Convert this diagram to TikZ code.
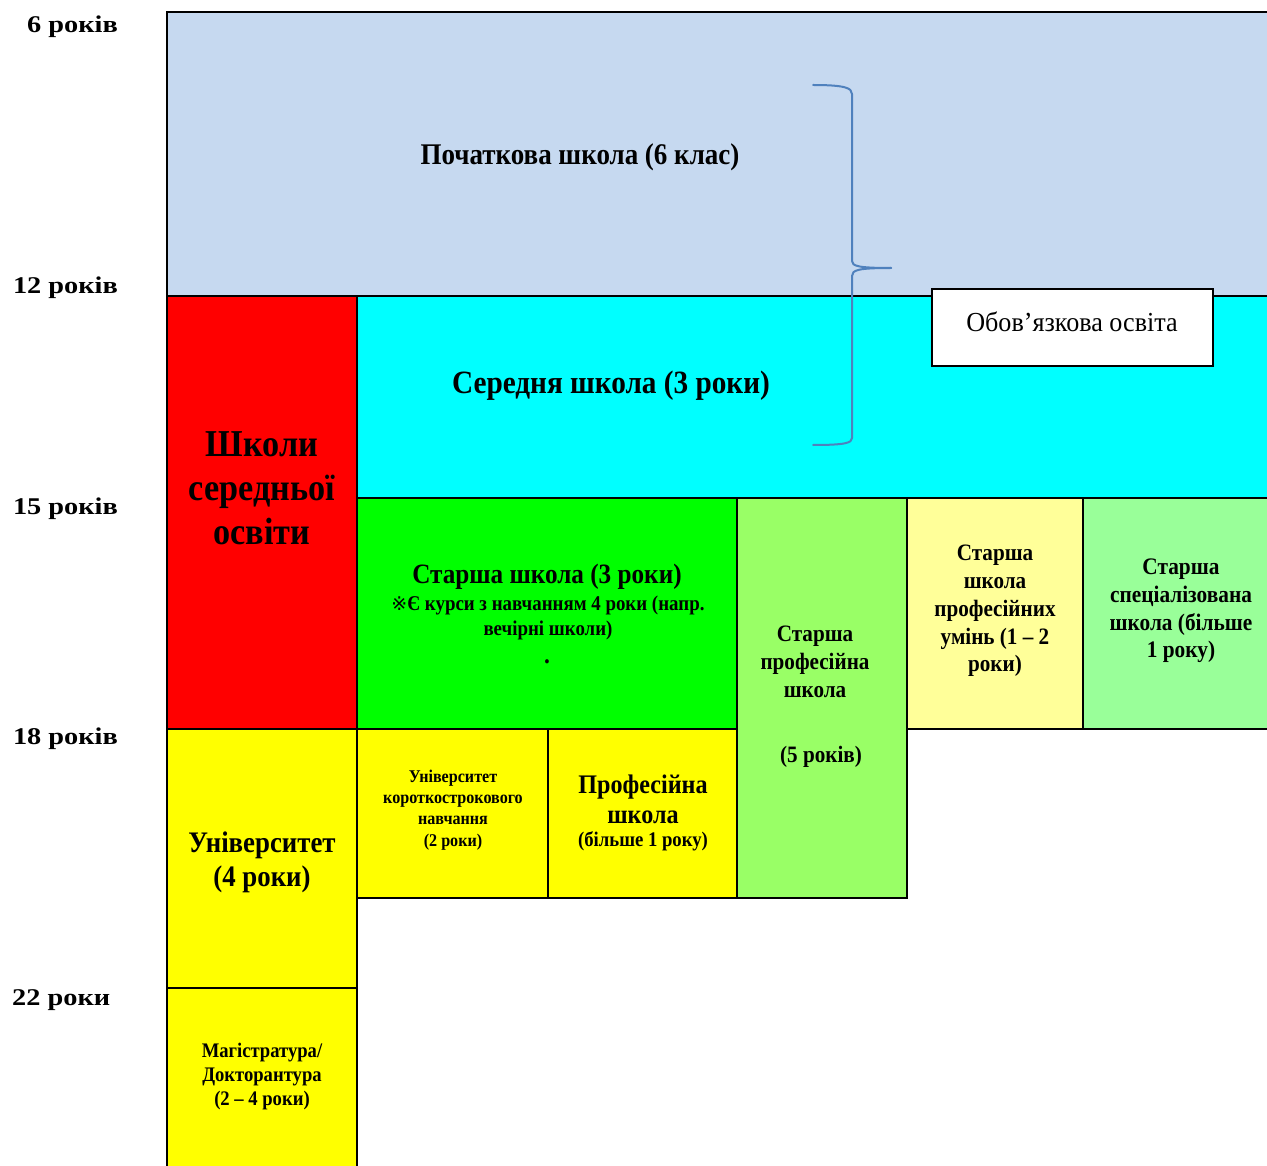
\documentclass[tikz,border=0pt]{standalone}
\usepackage{fontspec}
\setmainfont{Liberation Serif}
\newfontfamily\cbf[FakeStretch=0.9]{Liberation Serif Bold}
\newfontfamily\wbf[FakeStretch=1.18]{Liberation Serif Bold}
\newfontfamily\creg[FakeStretch=0.95]{Liberation Serif}
\newfontfamily\symf{DejaVu Sans}
\definecolor{cblue}{HTML}{C6D9F0}
\definecolor{cred}{HTML}{FF0000}
\definecolor{ccyan}{HTML}{00FFFF}
\definecolor{cgreen}{HTML}{00FF00}
\definecolor{clgreen}{HTML}{99FF66}
\definecolor{clyellow}{HTML}{FFFF99}
\definecolor{cpgreen}{HTML}{99FF99}
\definecolor{cyellow}{HTML}{FFFF00}
\definecolor{cbrace}{HTML}{4F81BD}
\newcommand{\fs}[2]{\fontsize{#1}{#2}\selectfont}
\begin{document}
\begin{tikzpicture}[x=1pt,y=-1pt,
  box/.style={draw=black, line width=2pt, anchor=north west, inner sep=0pt, outer sep=0pt},
  txt/.style={align=center, inner sep=0pt, text=black, yshift=-2pt},
  age/.style={inner sep=0pt, text=black, font=\wbf\fs{24}{28}, yshift=-2.5pt},
  brace/.style={draw=cbrace, line width=2pt, line cap=round, line join=round}]
\useasboundingbox (0,0) rectangle (1267,1166);
% boxes
\node[box, fill=cblue, minimum width=1120pt, minimum height=284pt] (prim) at (167,12) {};
\node[box, fill=cred, minimum width=190pt, minimum height=433pt] (red) at (167,296) {};
\node[box, fill=ccyan, minimum width=930pt, minimum height=202pt] (mid) at (357,296) {};
\node[box, fill=cgreen, minimum width=380pt, minimum height=231pt] (sen) at (357,498) {};
\node[box, fill=clgreen, minimum width=170pt, minimum height=400pt] (prof5) at (737,498) {};
\node[box, fill=clyellow, minimum width=176pt, minimum height=231pt] (skill) at (907,498) {};
\node[box, fill=cpgreen, minimum width=204pt, minimum height=231pt] (spec) at (1083,498) {};
\node[box, fill=cyellow, minimum width=190pt, minimum height=259pt] (univ) at (167,729) {};
\node[box, fill=cyellow, minimum width=190pt, minimum height=200pt] (mast) at (167,988) {};
\node[box, fill=cyellow, minimum width=191pt, minimum height=169pt] (short) at (357,729) {};
\node[box, fill=cyellow, minimum width=189pt, minimum height=169pt] (voc) at (548,729) {};
% texts
\node[txt, font=\cbf\fs{30}{34}] (tprim) at (580,155) {Початкова школа (6 клас)};
\node[txt, font=\cbf\fs{32.5}{34}] (tmid) at (611,384) {Середня школа (3 роки)};
\node[txt, font=\cbf\fs{38}{44}] (tred) at (262,486) {Школи\\середньої\\освіти};
\node[txt, font=\cbf\fs{28}{30}] (tsen) at (547,575) {Старша школа (3 роки)};
\node[txt, font=\cbf\fs{21}{25}] (tsennote) at (548,616) {{\symf\fs{19}{25}※}Є курси з навчанням 4 роки (напр.\\вечірні школи)};
\node[txt, font=\cbf\fs{26}{25}] (tsendot) at (547,660) {.};
\node[txt, font=\cbf\fs{23.5}{28}] (tprof5) at (815,660) {Старша\\професійна\\школа};
\node[txt, font=\cbf\fs{23.5}{28}] (tprof5y) at (821,755) {(5 років)};
\node[txt, font=\cbf\fs{23.5}{27.8}] (tskill) at (995,609) {Старша\\школа\\професійних\\умінь (1 – 2\\роки)};
\node[txt, font=\cbf\fs{23.7}{27.8}] (tspec) at (1181,609) {Старша\\спеціалізована\\школа (більше\\1 року)};
\node[txt, font=\cbf\fs{29.8}{34}] (tuniv) at (262,860) {Університет\\(4 роки)};
\node[txt, font=\cbf\fs{17.9}{21.3}] (tshort) at (453,808) {Університет\\короткострокового\\навчання\\(2 роки)};
\node[txt, font=\cbf\fs{26.8}{30}] (tvoc) at (643,797) {Професійна\\школа};
\node[txt, font=\cbf\fs{20.8}{24}] (tvocy) at (643,839) {(більше 1 року)};
\node[txt, font=\cbf\fs{20.7}{24}] (tmast) at (262,1075) {Магістратура/\\Докторантура\\(2 – 4 роки)};
% ages
\node[age, anchor=east] (a6) at (118,24) {6 років};
\node[age, anchor=east] (a12) at (118,285) {12 років};
\node[age, anchor=east] (a15) at (118,506) {15 років};
\node[age, anchor=east] (a18) at (118,736) {18 років};
\node[age, anchor=west] (a22) at (12,998) {22 роки};
% brace
\draw[brace] (813,85) .. controls (845,85) and (852,88) .. (852,94) -- (852,261)
  .. controls (852,266) and (858,268) .. (891,268);
\draw[brace] (891,268) .. controls (858,268) and (852,270) .. (852,276) -- (852,438)
  .. controls (852,443) and (845,445) .. (813,445);
% compulsory box
\node[draw=black, line width=2pt, fill=white, anchor=north west, minimum width=281pt, minimum height=77pt, inner sep=0pt] (comp) at (931,288) {};
\node[txt, font=\creg\fs{27.5}{30}] (tcomp) at (1072,320) {Обов’язкова освіта};
\end{tikzpicture}
\end{document}
